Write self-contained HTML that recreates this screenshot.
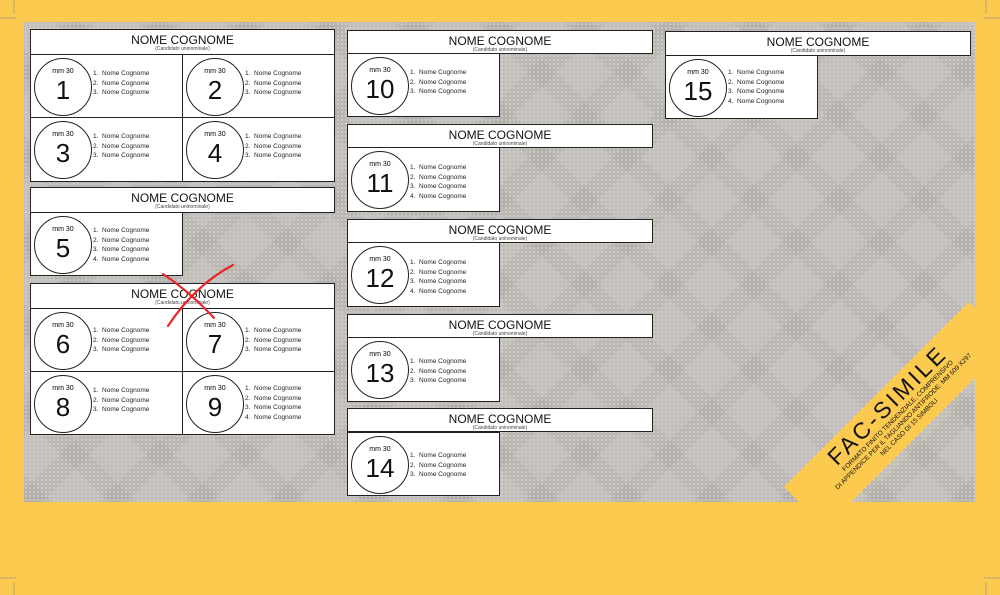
<!DOCTYPE html><html><head><meta charset="utf-8"><style>
body{margin:0;width:1000px;height:595px;background:#fdca50;position:relative;overflow:hidden;font-family:"Liberation Sans",sans-serif}
#g{position:absolute;left:24px;top:22px;width:951px;height:480px;background:#bebec3;background-image:radial-gradient(circle,#e2d6a0 0.7px,transparent 1.1px),repeating-linear-gradient(45deg,rgba(150,150,155,.2) 0 20px,transparent 20px 60px),repeating-linear-gradient(-45deg,rgba(150,150,155,.2) 0 20px,transparent 20px 60px);background-size:4px 4px,auto,auto}
.h{position:absolute;height:24px;width:304px;border:1px solid #222;background:#fff;text-align:center;box-sizing:border-box}
.h b{display:block;font-weight:normal;font-size:12px;line-height:12px;margin-top:4px;color:#111}
.h i{display:block;font-style:normal;font-size:5px;color:#444;line-height:6px}
.c{position:absolute;width:153px;height:64px;border:1px solid #222;background:#fff;box-sizing:border-box}
.o{position:absolute;left:3px;top:3px;width:56px;height:56px;border:1px solid #222;border-radius:50%;text-align:center}
.o s{text-decoration:none;display:block;font-size:7px;margin-top:9px;line-height:8px}
.o u{text-decoration:none;display:block;font-size:26px;line-height:28px;color:#111}
.l{position:absolute;left:62px;top:14px;font-size:6.5px;line-height:9.6px;color:#222;margin:0;padding:0;list-style:none}
</style></head><body>
<div id="g"></div>

<!-- banner -->
<div style="position:absolute;left:766px;top:386px;width:262px;height:58px;background:#fdca50;transform:rotate(-45deg);text-align:center;color:#111">
<div style="font-size:23px;letter-spacing:3px;line-height:24px;margin-top:3px">FAC-SIMILE</div>
<div style="font-size:6.5px;line-height:8px">FORMATO FINITO TENDENZIALE, COMPRENSIVO<br>DI APPENDICE PER IL TAGLIANDO ANTIFRODE: MM 509 X297<br>NEL CASO DI 15 SIMBOLI</div>
</div>
<div style="position:absolute;left:975px;top:0;width:25px;height:595px;background:#fdca50"></div>
<div style="position:absolute;left:0;top:502px;width:1000px;height:93px;background:#fdca50"></div>
<svg style="position:absolute;left:0;top:0" width="1000" height="595"><g stroke="#888" stroke-width="0.6"><line x1="0" y1="18" x2="16" y2="18"/><line x1="14" y1="0" x2="14" y2="14"/><line x1="0" y1="578" x2="16" y2="578"/><line x1="14" y1="582" x2="14" y2="595"/><line x1="984" y1="578" x2="1000" y2="578"/><line x1="986" y1="582" x2="986" y2="595"/><line x1="986" y1="0" x2="986" y2="14"/><line x1="984" y1="18" x2="1000" y2="18"/></g></svg>

<!-- column 1 -->
<div class="h" style="left:30px;top:29px;width:305px;height:26px"><b>NOME COGNOME</b><i>(Candidato uninominale)</i></div>
<div class="c" style="left:30px;top:54px"><div class="o"><s>mm 30</s><u>1</u></div><ul class="l"><li>1.&nbsp; Nome Cognome</li><li>2.&nbsp; Nome Cognome</li><li>3.&nbsp; Nome Cognome</li></ul></div>
<div class="c" style="left:182px;top:54px"><div class="o"><s>mm 30</s><u>2</u></div><ul class="l"><li>1.&nbsp; Nome Cognome</li><li>2.&nbsp; Nome Cognome</li><li>3.&nbsp; Nome Cognome</li></ul></div>
<div class="c" style="left:30px;top:117px;height:65px"><div class="o"><s>mm 30</s><u>3</u></div><ul class="l"><li>1.&nbsp; Nome Cognome</li><li>2.&nbsp; Nome Cognome</li><li>3.&nbsp; Nome Cognome</li></ul></div>
<div class="c" style="left:182px;top:117px;height:65px"><div class="o"><s>mm 30</s><u>4</u></div><ul class="l"><li>1.&nbsp; Nome Cognome</li><li>2.&nbsp; Nome Cognome</li><li>3.&nbsp; Nome Cognome</li></ul></div>

<div class="h" style="left:30px;top:187px;width:305px;height:26px"><b>NOME COGNOME</b><i>(Candidato uninominale)</i></div>
<div class="c" style="left:30px;top:212px"><div class="o"><s>mm 30</s><u>5</u></div><ul class="l" style="top:13px"><li>1.&nbsp; Nome Cognome</li><li>2.&nbsp; Nome Cognome</li><li>3.&nbsp; Nome Cognome</li><li>4.&nbsp; Nome Cognome</li></ul></div>

<div class="h" style="left:30px;top:283px;width:305px;height:26px"><b>NOME COGNOME</b><i>(Candidato uninominale)</i></div>
<div class="c" style="left:30px;top:308px"><div class="o"><s>mm 30</s><u>6</u></div><ul class="l" style="top:17px"><li>1.&nbsp; Nome Cognome</li><li>2.&nbsp; Nome Cognome</li><li>3.&nbsp; Nome Cognome</li></ul></div>
<div class="c" style="left:182px;top:308px"><div class="o"><s>mm 30</s><u>7</u></div><ul class="l" style="top:17px"><li>1.&nbsp; Nome Cognome</li><li>2.&nbsp; Nome Cognome</li><li>3.&nbsp; Nome Cognome</li></ul></div>
<div class="c" style="left:30px;top:371px"><div class="o"><s>mm 30</s><u>8</u></div><ul class="l"><li>1.&nbsp; Nome Cognome</li><li>2.&nbsp; Nome Cognome</li><li>3.&nbsp; Nome Cognome</li></ul></div>
<div class="c" style="left:182px;top:371px"><div class="o"><s>mm 30</s><u>9</u></div><ul class="l" style="top:12px"><li>1.&nbsp; Nome Cognome</li><li>2.&nbsp; Nome Cognome</li><li>3.&nbsp; Nome Cognome</li><li>4.&nbsp; Nome Cognome</li></ul></div>

<!-- column 2 -->
<div class="h" style="left:347px;top:30px;width:306px"><b>NOME COGNOME</b><i>(Candidato uninominale)</i></div>
<div class="c" style="left:347px;top:53px"><div class="o"><s>mm 30</s><u>10</u></div><ul class="l"><li>1.&nbsp; Nome Cognome</li><li>2.&nbsp; Nome Cognome</li><li>3.&nbsp; Nome Cognome</li></ul></div>
<div class="h" style="left:347px;top:124px;width:306px"><b>NOME COGNOME</b><i>(Candidato uninominale)</i></div>
<div class="c" style="left:347px;top:147px;height:65px"><div class="o"><s>mm 30</s><u>11</u></div><ul class="l" style="top:15px"><li>1.&nbsp; Nome Cognome</li><li>2.&nbsp; Nome Cognome</li><li>3.&nbsp; Nome Cognome</li><li>4.&nbsp; Nome Cognome</li></ul></div>
<div class="h" style="left:347px;top:219px;width:306px"><b>NOME COGNOME</b><i>(Candidato uninominale)</i></div>
<div class="c" style="left:347px;top:242px;height:65px"><div class="o"><s>mm 30</s><u>12</u></div><ul class="l" style="top:15px"><li>1.&nbsp; Nome Cognome</li><li>2.&nbsp; Nome Cognome</li><li>3.&nbsp; Nome Cognome</li><li>4.&nbsp; Nome Cognome</li></ul></div>
<div class="h" style="left:347px;top:314px;width:306px"><b>NOME COGNOME</b><i>(Candidato uninominale)</i></div>
<div class="c" style="left:347px;top:337px;height:65px"><div class="o"><s>mm 30</s><u>13</u></div><ul class="l" style="top:19px"><li>1.&nbsp; Nome Cognome</li><li>2.&nbsp; Nome Cognome</li><li>3.&nbsp; Nome Cognome</li></ul></div>
<div class="h" style="left:347px;top:408px;width:306px"><b>NOME COGNOME</b><i>(Candidato uninominale)</i></div>
<div class="c" style="left:347px;top:432px"><div class="o"><s>mm 30</s><u>14</u></div><ul class="l" style="top:18px"><li>1.&nbsp; Nome Cognome</li><li>2.&nbsp; Nome Cognome</li><li>3.&nbsp; Nome Cognome</li></ul></div>

<!-- column 3 -->
<div class="h" style="left:665px;top:31px;width:306px;height:25px"><b>NOME COGNOME</b><i>(Candidato uninominale)</i></div>
<div class="c" style="left:665px;top:55px"><div class="o"><s>mm 30</s><u>15</u></div><ul class="l" style="top:12px"><li>1.&nbsp; Nome Cognome</li><li>2.&nbsp; Nome Cognome</li><li>3.&nbsp; Nome Cognome</li><li>4.&nbsp; Nome Cognome</li></ul></div>

<!-- red X -->
<svg style="position:absolute;left:0;top:0" width="1000" height="595"><g stroke="#e8262a" stroke-width="2.2" fill="none" stroke-linecap="round"><path d="M163 274 Q190 292 214 318"/><path d="M233 265 Q195 285 168 326"/></g></svg>
</body></html>
